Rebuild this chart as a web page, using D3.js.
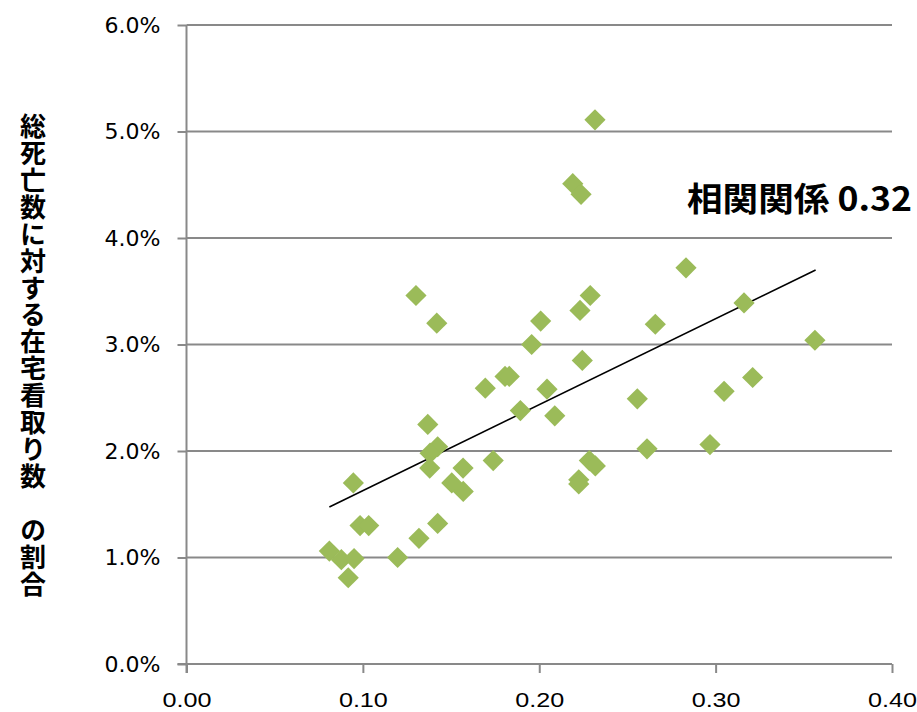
<!DOCTYPE html>
<html>
<head>
<meta charset="utf-8">
<script src="https://cdn.jsdelivr.net/npm/d3@7/dist/d3.min.js"></script>
<style>
  html, body { margin: 0; padding: 0; background: #fff; }
  svg { display: block; }
</style>
</head>
<body>
<svg id="chart" width="917" height="712"></svg>
<script>
// Ratio of home deaths (x) vs share of total deaths (y, %)
const homeRatio = [
  0.2316, 0.2190, 0.2237, 0.2832, 0.2289, 0.1301, 0.3161, 0.2231, 0.2008, 0.1419,
  0.2658, 0.1957, 0.3563, 0.2244, 0.1806, 0.1830, 0.1694, 0.2044, 0.3210, 0.3048,
  0.2556, 0.1893, 0.2088, 0.1368, 0.1424, 0.1381, 0.2968, 0.2611, 0.0946, 0.1379,
  0.1568, 0.1739, 0.2284, 0.2318, 0.1504, 0.1569, 0.2224, 0.2224, 0.0984, 0.1033,
  0.1424, 0.1318, 0.1197, 0.0810, 0.0878, 0.0950, 0.0917
];
const deathShare = [
  5.11, 4.51, 4.41, 3.72, 3.46, 3.46, 3.39, 3.32, 3.22, 3.20,
  3.19, 3.00, 3.04, 2.85, 2.70, 2.70, 2.59, 2.58, 2.69, 2.56,
  2.49, 2.38, 2.33, 2.25, 2.04, 1.98, 2.06, 2.02, 1.70, 1.84,
  1.84, 1.91, 1.91, 1.86, 1.70, 1.62, 1.73, 1.69, 1.30, 1.30,
  1.32, 1.18, 1.00, 1.06, 0.98, 0.99, 0.81
];
// Linear trend line endpoints
const trendX = [0.0810, 0.3567];
const trendY = [1.474, 3.70];

const xTicks = [0, 0.1, 0.2, 0.3, 0.4];
const yTicks = [0, 1, 2, 3, 4, 5, 6];
const yTitle = "総死亡数に対する在宅看取り数　の割合";
const corrLabel = "相関関係 0.32";

const svg = d3.select("#chart");
const x = d3.scaleLinear().domain([0, 0.4]).range([186.5, 892]);
const y = d3.scaleLinear().domain([0, 6]).range([664, 25]);
const axisColor = "#898989";

// horizontal gridlines
svg.append("g").selectAll("line").data(yTicks.filter(d => d > 0)).join("line")
  .attr("x1", x(0)).attr("x2", x(0.4))
  .attr("y1", d => y(d)).attr("y2", d => y(d))
  .attr("stroke", axisColor).attr("stroke-width", 2);

// y axis
const yAxis = svg.append("g").attr("transform", `translate(${x(0)},0)`)
  .call(d3.axisLeft(y).tickValues(yTicks).tickSize(9).tickPadding(17)
    .tickFormat(d => d.toFixed(1) + "%"));
yAxis.select(".domain").attr("stroke", axisColor).attr("stroke-width", 2)
  .attr("d", `M0,${y(6)}V${y(0) + 9}`);
yAxis.selectAll(".tick line").attr("stroke", axisColor).attr("stroke-width", 2);
yAxis.selectAll(".tick text")
  .attr("font-family", "DejaVu Sans, Verdana, sans-serif")
  .attr("font-size", 22).attr("fill", "#000")
  .attr("textLength", 56).attr("lengthAdjust", "spacingAndGlyphs");

// x axis
const xAxis = svg.append("g").attr("transform", `translate(0,${y(0)})`)
  .call(d3.axisBottom(x).tickValues(xTicks).tickSize(9).tickPadding(19)
    .tickFormat(d => d.toFixed(2)));
xAxis.select(".domain").attr("stroke", axisColor).attr("stroke-width", 2)
  .attr("d", `M${x(0) - 9},0H${x(0.4)}`);
xAxis.selectAll(".tick line").attr("stroke", axisColor).attr("stroke-width", 2);
xAxis.selectAll(".tick text")
  .attr("font-family", "Liberation Sans, Arial, sans-serif")
  .attr("font-size", 21).attr("fill", "#000")
  .attr("textLength", 49).attr("lengthAdjust", "spacingAndGlyphs");

// trend line
svg.append("line")
  .attr("x1", x(trendX[0])).attr("y1", y(trendY[0]))
  .attr("x2", x(trendX[1])).attr("y2", y(trendY[1]))
  .attr("stroke", "#000").attr("stroke-width", 1.6);

// diamond markers
const pts = homeRatio.map((v, i) => [v, deathShare[i]]);
const diamond = d3.symbol().type(d3.symbolSquare).size(225);
svg.append("g").selectAll("path").data(pts).join("path")
  .attr("d", diamond)
  .attr("transform", d => `translate(${x(d[0])},${y(d[1])}) rotate(45)`)
  .attr("fill", "#9BBB59");

// y axis title, vertical
svg.append("text")
  .attr("x", 33).attr("y", 113)
  .attr("writing-mode", "vertical-rl")
  .attr("font-family", "Noto Sans CJK JP, sans-serif")
  .attr("font-weight", "bold").attr("font-size", 26)
  .attr("textLength", 484).attr("lengthAdjust", "spacing")
  .text(yTitle);

// correlation annotation
svg.append("text")
  .attr("x", 687).attr("y", 211)
  .attr("font-family", "Noto Sans CJK JP, sans-serif")
  .attr("font-weight", "bold").attr("font-size", 33)
  .attr("textLength", 225).attr("lengthAdjust", "spacingAndGlyphs")
  .text(corrLabel);
</script>
</body>
</html>
